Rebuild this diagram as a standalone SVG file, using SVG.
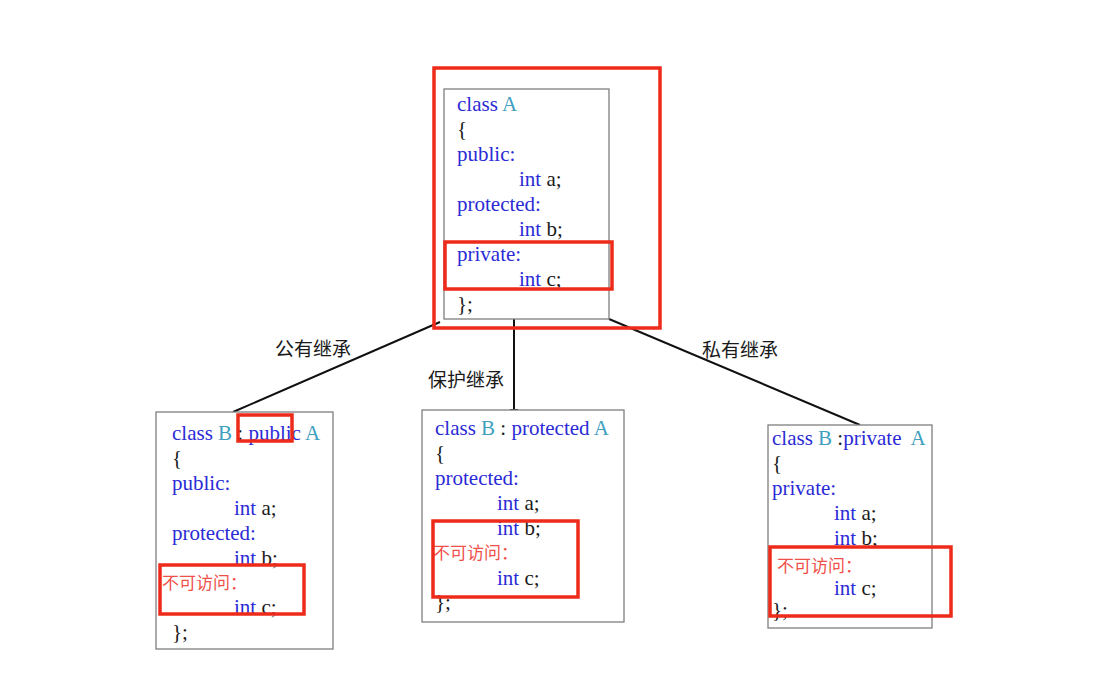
<svg xmlns="http://www.w3.org/2000/svg" width="1097" height="687" viewBox="0 0 1097 687">
<style>
.box{fill:#fff;stroke:#7f7f7f;stroke-width:1.3}
.hl{fill:none;stroke:#ee2a1a;stroke-width:3.5}
.code{font-family:"Liberation Serif",serif;font-size:21px;fill:#1a1a1a}
.kw{fill:#2b2bd6}
.cn{fill:#3f9fc0}
.na{font-family:"Liberation Sans","Noto Sans CJK SC",sans-serif;font-size:17px;fill:#f0504a}
.lbl{font-family:"Liberation Sans","Noto Sans CJK SC",sans-serif;font-size:19px;fill:#1a1a1a}
.ln{stroke:#111;stroke-width:2;fill:none}
</style>
<rect width="1097" height="687" fill="#fff"/>
<g id="connectors">
<line class="ln" x1="440" y1="322" x2="233" y2="412"/>
<line class="ln" x1="514" y1="319" x2="514" y2="410"/>
<line class="ln" x1="510" y1="410" x2="518" y2="410"/>
<line class="ln" x1="609" y1="319" x2="860" y2="425"/>
<text class="lbl" x="275" y="356">公有继承</text>
<text class="lbl" x="428" y="387">保护继承</text>
<text class="lbl" x="702" y="357">私有继承</text>
</g>
<g id="classA">
<rect class="box" x="444" y="89" width="165" height="230"/>
<text class="code" x="457" y="111"><tspan class="kw">class</tspan> <tspan class="cn">A</tspan></text>
<text class="code" x="457" y="136">{</text>
<text class="code kw" x="457" y="161">public:</text>
<text class="code" x="519" y="186"><tspan class="kw">int</tspan> a;</text>
<text class="code kw" x="457" y="211">protected:</text>
<text class="code" x="519" y="236"><tspan class="kw">int</tspan> b;</text>
<text class="code kw" x="457" y="261">private:</text>
<text class="code" x="519" y="286"><tspan class="kw">int</tspan> c;</text>
<text class="code" x="457" y="311">};</text>
<rect class="hl" x="445" y="242" width="167" height="47"/>
<rect class="hl" x="434" y="68" width="226" height="260"/>
</g>
<g id="classB_public">
<rect class="box" x="156" y="412" width="177" height="237"/>
<text class="code" x="172" y="440"><tspan class="kw">class</tspan> <tspan class="cn">B</tspan> : <tspan class="kw">public</tspan> <tspan class="cn">A</tspan></text>
<text class="code" x="172" y="465">{</text>
<text class="code kw" x="172" y="490">public:</text>
<text class="code" x="234" y="515"><tspan class="kw">int</tspan> a;</text>
<text class="code kw" x="172" y="540">protected:</text>
<text class="code" x="234" y="565"><tspan class="kw">int</tspan> b;</text>
<text class="na" x="162" y="589">不可访问：</text>
<text class="code" x="234" y="614"><tspan class="kw">int</tspan> c;</text>
<text class="code" x="172" y="639">};</text>
<rect class="hl" x="238" y="415" width="54" height="26"/>
<rect class="hl" x="160" y="565" width="144" height="49"/>
</g>
<g id="classB_protected">
<rect class="box" x="422" y="410" width="202" height="212"/>
<text class="code" x="435" y="435"><tspan class="kw">class</tspan> <tspan class="cn">B</tspan> : <tspan class="kw">protected</tspan> <tspan class="cn">A</tspan></text>
<text class="code" x="435" y="460">{</text>
<text class="code kw" x="435" y="485">protected:</text>
<text class="code" x="497" y="510"><tspan class="kw">int</tspan> a;</text>
<text class="code" x="497" y="535"><tspan class="kw">int</tspan> b;</text>
<text class="na" x="433" y="559">不可访问：</text>
<text class="code" x="497" y="585"><tspan class="kw">int</tspan> c;</text>
<text class="code" x="435" y="609">};</text>
<rect class="hl" x="433" y="521" width="145" height="76"/>
</g>
<g id="classB_private">
<rect class="box" x="768" y="425" width="164" height="203"/>
<text class="code" x="772" y="445"><tspan class="kw">class</tspan> <tspan class="cn">B</tspan> :<tspan class="kw">private</tspan> <tspan class="cn" dx="5">A</tspan></text>
<text class="code" x="772" y="470">{</text>
<text class="code kw" x="772" y="495">private:</text>
<text class="code" x="834" y="520"><tspan class="kw">int</tspan> a;</text>
<text class="code" x="834" y="545"><tspan class="kw">int</tspan> b;</text>
<text class="na" x="777" y="572">不可访问：</text>
<text class="code" x="834" y="595"><tspan class="kw">int</tspan> c;</text>
<text class="code" x="772" y="617">};</text>
<rect class="hl" x="770" y="547" width="181" height="69"/>
</g>
</svg>
